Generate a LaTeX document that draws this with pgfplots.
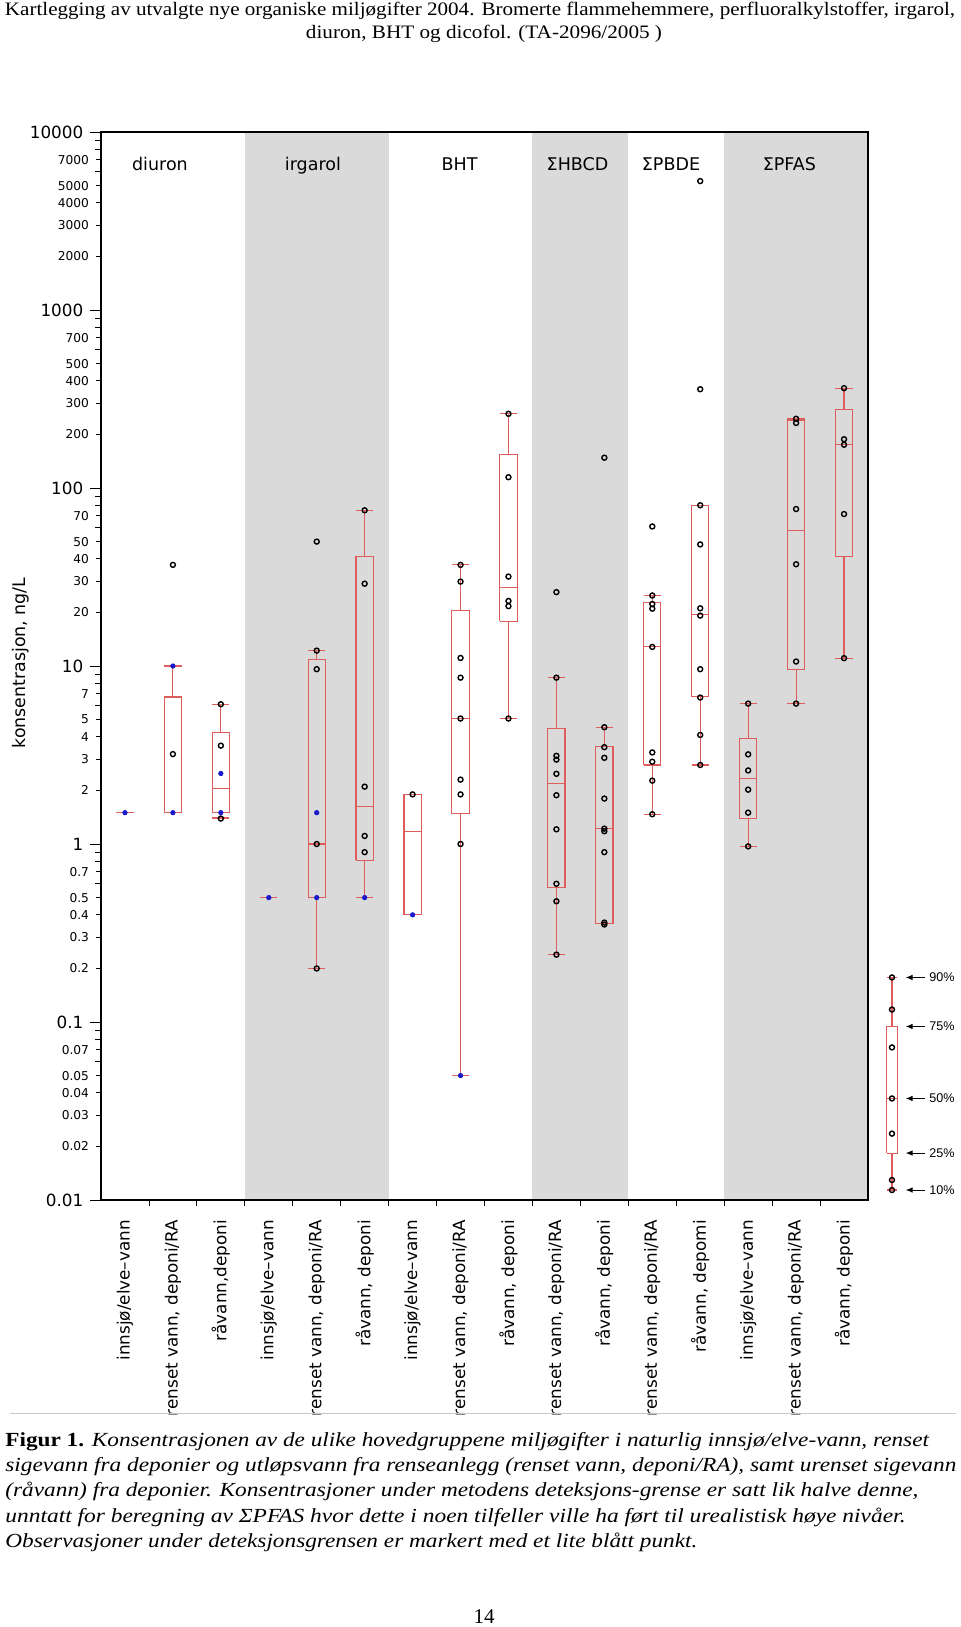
\documentclass[border=0pt]{standalone}
\usepackage{fontspec}
\setmainfont{Liberation Serif}
\newfontfamily\dejavu{DejaVu Sans}
\newfontfamily\arial{Liberation Sans}
\usepackage{graphicx}
\usepackage{pgfplots}
\pgfplotsset{compat=1.18}
\usetikzlibrary{arrows.meta}
\definecolor{boxred}{RGB}{222,92,92}
\definecolor{band}{RGB}{218,218,218}
\definecolor{dotblue}{RGB}{25,25,205}
\definecolor{sepgray}{RGB}{200,200,200}
\tikzset{legarrow/.style={-{Latex[length=3.5pt,width=2.8pt]},line width=0.5pt},
  leglab/.style={anchor=west,inner sep=0pt,font=\arial\fontsize{6.3}{7}\selectfont},
  grplab/.style={anchor=base,font=\dejavu\fontsize{8.75}{10}\selectfont}}
\begin{document}
\begin{tikzpicture}
\path[use as bounding box] (0pt,0pt) rectangle (480pt,-813.5pt);
% header
\node[anchor=base,inner sep=0pt,font=\fontsize{9.5}{11}\selectfont] at (240pt,-8pt) {\resizebox{475pt}{\height}{Kartlegging av utvalgte nye organiske miljøgifter 2004. Bromerte flammehemmere, perfluoralkylstoffer, irgarol,}};
\node[anchor=base,inner sep=0pt,font=\fontsize{9.5}{11}\selectfont] at (242pt,-19.5pt) {\resizebox{178pt}{\height}{diuron, BHT og dicofol. (TA-2096/2005 )}};
% y label
\node[rotate=90,anchor=center,font=\dejavu\fontsize{8.7}{10}\selectfont] at (10.3pt,-331.5pt) {konsentrasjon, ng/L};
\begin{axis}[
  at={(50.5pt,-600pt)}, anchor=south west,
  scale only axis, width=383.5pt, height=534pt,
  ymode=log, ymin=0.01, ymax=10000, xmin=-0.5, xmax=15.5,
  clip=false, axis on top,
  axis line style={line width=0.85pt},
  tick align=outside, tick pos=left,
  major tick length=5.35pt, minor tick length=3pt,
  tick style={black, line width=0.4pt},
  xtick={0,...,15},
  xticklabels={innsjø/elve–vann,{renset vann, deponi/RA},{råvann,deponi},innsjø/elve–vann,{renset vann, deponi/RA},{råvann, deponi},innsjø/elve–vann,{renset vann, deponi/RA},{råvann, deponi},{renset vann, deponi/RA},{råvann, deponi},{renset vann, deponi/RA},{råvann, depomi},innsjø/elve–vann,{renset vann, deponi/RA},{råvann, deponi}},
  major x tick style={draw=none},
  minor xtick={0.5,1.5,...,14.5},
  xticklabel style={rotate=90,anchor=east,inner sep=0pt,xshift=-4.5pt,font=\dejavu\fontsize{8.4}{10}\selectfont},
  ytick={0.01,0.1,1,10,100,1000,10000},
  yticklabels={0.01,0.1,1,10,100,1000,10000},
  yticklabel style={inner sep=0pt,xshift=-3.3pt,font=\dejavu\fontsize{8.4}{10}\selectfont},
  extra y ticks={0.02,0.03,0.04,0.05,0.07,0.2,0.3,0.4,0.5,0.7,2,3,4,5,7,20,30,40,50,70,200,300,400,500,700,2000,3000,4000,5000,7000},
  extra y tick labels={0.02,0.03,0.04,0.05,0.07,0.2,0.3,0.4,0.5,0.7,2,3,4,5,7,20,30,40,50,70,200,300,400,500,700,2000,3000,4000,5000,7000},
  extra y tick style={major tick length=2.5pt, yticklabel style={font=\dejavu\fontsize{6.1}{7}\selectfont}},
  minor ytick={0.06,0.08,0.09,0.6,0.8,0.9,6,8,9,60,80,90,600,800,900,6000,8000,9000},
]
% shaded bands
\addplot[fill=band,draw=none] coordinates {(2.5,0.01) (5.5,0.01) (5.5,10000) (2.5,10000)};
\addplot[fill=band,draw=none] coordinates {(8.5,0.01) (10.5,0.01) (10.5,10000) (8.5,10000)};
\addplot[fill=band,draw=none] coordinates {(12.5,0.01) (15.5,0.01) (15.5,10000) (12.5,10000)};
% boxes
\addplot[boxred,line width=0.55pt,unbounded coords=jump] coordinates {
 (0.82,1.5)(1.18,1.5)(1.18,6.7)(0.82,6.7)(0.82,1.5) (1,nan)
 (1.82,1.5)(2.18,1.5)(2.18,4.25)(1.82,4.25)(1.82,1.5) (2,nan)
 (3.82,0.5)(4.18,0.5)(4.18,10.9)(3.82,10.9)(3.82,0.5) (4,nan)
 (4.82,0.81)(5.18,0.81)(5.18,41)(4.82,41)(4.82,0.81) (5,nan)
 (5.82,0.4)(6.18,0.4)(6.18,1.9)(5.82,1.9)(5.82,0.4) (6,nan)
 (6.82,1.48)(7.18,1.48)(7.18,20.4)(6.82,20.4)(6.82,1.48) (7,nan)
 (7.82,17.8)(8.18,17.8)(8.18,154)(7.82,154)(7.82,17.8) (8,nan)
 (8.82,0.569)(9.18,0.569)(9.18,4.46)(8.82,4.46)(8.82,0.569) (9,nan)
 (9.82,0.356)(10.18,0.356)(10.18,3.54)(9.82,3.54)(9.82,0.356) (10,nan)
 (10.82,2.78)(11.18,2.78)(11.18,22.7)(10.82,22.7)(10.82,2.78) (11,nan)
 (11.82,6.72)(12.18,6.72)(12.18,79.5)(11.82,79.5)(11.82,6.72) (12,nan)
 (12.82,1.385)(13.18,1.385)(13.18,3.92)(12.82,3.92)(12.82,1.385) (13,nan)
 (13.82,9.55)(14.18,9.55)(14.18,241)(13.82,241)(13.82,9.55) (14,nan)
 (14.82,41.2)(15.18,41.2)(15.18,277)(14.82,277)(14.82,41.2) (15,nan)
 (15.89,0.01836)(16.11,0.01836)(16.11,0.0944)(15.89,0.0944)(15.89,0.01836)
};
% medians
\addplot[boxred,line width=0.55pt,unbounded coords=jump] coordinates {
 (0.82,1.5)(1.18,1.5) (1,nan)
 (1.82,2.05)(2.18,2.05) (2,nan)
 (3.82,1.0)(4.18,1.0) (4,nan)
 (4.82,1.62)(5.18,1.62) (5,nan)
 (5.82,1.17)(6.18,1.17) (6,nan)
 (6.82,5.1)(7.18,5.1) (7,nan)
 (7.82,27.6)(8.18,27.6) (8,nan)
 (8.82,2.19)(9.18,2.19) (9,nan)
 (9.82,1.22)(10.18,1.22) (10,nan)
 (10.82,12.8)(11.18,12.8) (11,nan)
 (11.82,19.4)(12.18,19.4) (12,nan)
 (12.82,2.34)(13.18,2.34) (13,nan)
 (13.82,57.5)(14.18,57.5) (14,nan)
 (14.82,174.6)(15.18,174.6) (15,nan)
 (15.89,0.0372)(16.11,0.0372)
};
% whiskers
\addplot[boxred,line width=0.55pt,unbounded coords=jump] coordinates {
 (1,6.7)(1,10) (1,nan)
 (2,4.25)(2,6.1) (2,nan) (2,1.5)(2,1.4) (2,nan)
 (4,10.9)(4,12.2) (4,nan) (4,0.5)(4,0.2) (4,nan)
 (5,41)(5,75) (5,nan) (5,0.81)(5,0.5) (5,nan)
 (7,20.4)(7,37) (7,nan) (7,1.48)(7,0.05) (7,nan)
 (8,154)(8,261) (8,nan) (8,17.8)(8,5.07) (8,nan)
 (9,4.46)(9,8.6) (9,nan) (9,0.569)(9,0.239) (9,nan)
 (10,3.54)(10,4.53) (10,nan)
 (11,22.7)(11,24.9) (11,nan) (11,2.78)(11,1.47) (11,nan)
 (12,6.72)(12,2.78) (12,nan)
 (13,3.92)(13,6.15) (13,nan) (13,1.385)(13,0.97) (13,nan)
 (14,241)(14,245) (14,nan) (14,9.55)(14,6.15) (14,nan)
 (15,277)(15,364) (15,nan) (15,41.2)(15,11.07) (15,nan)
 (16,0.0944)(16,0.178) (16,nan) (16,0.01836)(16,0.01138)
};
% caps
\addplot[boxred,line width=0.55pt,unbounded coords=jump] coordinates {
 (-0.18,1.5)(0.18,1.5) (0,nan)
 (0.82,10)(1.18,10) (1,nan)
 (1.82,6.1)(2.18,6.1) (2,nan) (1.82,1.4)(2.18,1.4) (2,nan)
 (2.82,0.5)(3.18,0.5) (3,nan)
 (3.82,12.2)(4.18,12.2) (4,nan) (3.82,0.2)(4.18,0.2) (4,nan)
 (4.82,75)(5.18,75) (5,nan) (4.82,0.5)(5.18,0.5) (5,nan)
 (6.82,37)(7.18,37) (7,nan) (6.82,0.05)(7.18,0.05) (7,nan)
 (7.82,261)(8.18,261) (8,nan) (7.82,5.07)(8.18,5.07) (8,nan)
 (8.82,8.6)(9.18,8.6) (9,nan) (8.82,0.239)(9.18,0.239) (9,nan)
 (9.82,4.53)(10.18,4.53) (10,nan)
 (10.82,24.9)(11.18,24.9) (11,nan) (10.82,1.47)(11.18,1.47) (11,nan)
 (11.82,2.78)(12.18,2.78) (12,nan)
 (12.82,6.15)(13.18,6.15) (13,nan) (12.82,0.97)(13.18,0.97) (13,nan)
 (13.82,245)(14.18,245) (14,nan) (13.82,6.15)(14.18,6.15) (14,nan)
 (14.82,364)(15.18,364) (15,nan) (14.82,11.07)(15.18,11.07) (15,nan)
 (15.89,0.178)(16.11,0.178) (16,nan) (15.89,0.01138)(16.11,0.01138)
};
% observations
\addplot[only marks,mark=o,mark size=1.25pt,mark options={line width=0.7pt,black}] coordinates {
 (1,37)(1,3.2)
 (2,6.1)(2,3.57)(2,1.39)
 (4,50)(4,12.2)(4,9.6)(4,1.0)(4,0.2)
 (5,75)(5,29)(5,2.1)(5,1.11)(5,0.9)
 (6,1.9)
 (7,37)(7,29.8)(7,11.1)(7,8.6)(7,5.07)(7,2.3)(7,1.9)(7,1.0)
 (8,261)(8,115)(8,31.8)(8,23.2)(8,21.7)(8,5.07)
 (9,26)(9,8.6)(9,3.13)(9,2.98)(9,2.48)(9,1.88)(9,1.21)(9,0.598)(9,0.477)(9,0.239)
 (10,148)(10,4.53)(10,3.5)(10,3.05)(10,1.80)(10,1.22)(10,1.18)(10,0.90)(10,0.362)(10,0.353)
 (11,60.8)(11,24.9)(11,22.3)(11,21.0)(11,12.8)(11,3.27)(11,2.90)(11,2.27)(11,1.47)
 (12,5300)(12,359)(12,80)(12,48.2)(12,21.1)(12,19.2)(12,9.6)(12,6.65)(12,4.1)(12,2.78)
 (13,6.15)(13,3.19)(13,2.59)(13,2.02)(13,1.5)(13,0.97)
 (14,245)(14,232)(14,76.2)(14,37.3)(14,10.6)(14,6.15)
 (15,364)(15,188)(15,175)(15,71.4)(15,11.07)
 (16,0.178)(16,0.1175)(16,0.072)(16,0.0372)(16,0.0236)(16,0.01295)(16,0.01138)
};
% below detection limit (blue)
\addplot[only marks,mark=*,mark size=1.1pt,color=dotblue] coordinates {
 (0,1.5)(1,10)(1,1.5)(2,2.49)(2,1.5)(3,0.5)(4,1.5)(4,0.5)(5,0.5)(6,0.4)(7,0.05)
};
% group labels
\node[grplab] at (axis cs:0.73,6060) {diuron};
\node[grplab] at (axis cs:3.92,6060) {irgarol};
\node[grplab] at (axis cs:6.98,6060) {BHT};
\node[grplab] at (axis cs:9.44,6060) {ΣHBCD};
\node[grplab] at (axis cs:11.39,6060) {ΣPBDE};
\node[grplab] at (axis cs:13.86,6060) {ΣPFAS};
% legend arrows
\draw[legarrow] (axis cs:16.69,0.178) -- (axis cs:16.285,0.178);
\draw[legarrow] (axis cs:16.69,0.0944) -- (axis cs:16.285,0.0944);
\draw[legarrow] (axis cs:16.69,0.0372) -- (axis cs:16.285,0.0372);
\draw[legarrow] (axis cs:16.69,0.01836) -- (axis cs:16.285,0.01836);
\draw[legarrow] (axis cs:16.69,0.01138) -- (axis cs:16.285,0.01138);
\node[leglab] at (axis cs:16.77,0.178) {90\%};
\node[leglab] at (axis cs:16.77,0.0944) {75\%};
\node[leglab] at (axis cs:16.77,0.0372) {50\%};
\node[leglab] at (axis cs:16.77,0.01836) {25\%};
\node[leglab] at (axis cs:16.77,0.01138) {10\%};
\end{axis}
% separator
\draw[sepgray,line width=0.6pt] (5pt,-706.8pt) -- (478pt,-706.8pt);
% caption
\node[anchor=base west,inner sep=0pt,font=\fontsize{10}{12}\selectfont] at (2.5pt,-723pt) {\resizebox{462pt}{\height}{\textbf{Figur 1.} \textit{Konsentrasjonen av de ulike hovedgruppene miljøgifter i naturlig innsjø/elve-vann, renset}}};
\node[anchor=base west,inner sep=0pt,font=\fontsize{10}{12}\selectfont\itshape] at (2.5pt,-735.7pt) {\resizebox{475.5pt}{\height}{sigevann fra deponier og utløpsvann fra renseanlegg (renset vann, deponi/RA), samt urenset sigevann}};
\node[anchor=base west,inner sep=0pt,font=\fontsize{10}{12}\selectfont\itshape] at (2.5pt,-748.4pt) {\resizebox{456.5pt}{\height}{(råvann) fra deponier. Konsentrasjoner under metodens deteksjons-grense er satt lik halve denne,}};
\node[anchor=base west,inner sep=0pt,font=\fontsize{10}{12}\selectfont\itshape] at (2.5pt,-761.1pt) {\resizebox{450pt}{\height}{unntatt for beregning av ΣPFAS hvor dette i noen tilfeller ville ha ført til urealistisk høye nivåer.}};
\node[anchor=base west,inner sep=0pt,font=\fontsize{10}{12}\selectfont\itshape] at (2.5pt,-773.8pt) {\resizebox{346pt}{\height}{Observasjoner under deteksjonsgrensen er markert med et lite blått punkt.}};
% page number
\node[anchor=base,inner sep=0pt,font=\fontsize{10.5}{12}\selectfont] at (242pt,-811.5pt) {14};
\end{tikzpicture}
\end{document}
